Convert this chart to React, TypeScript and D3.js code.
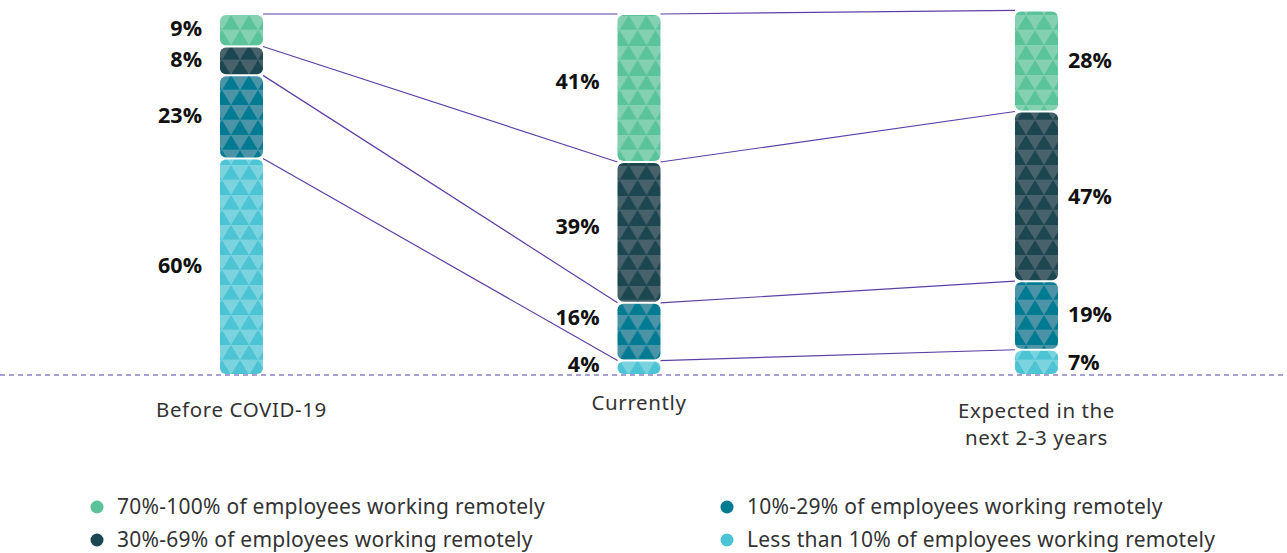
import React from "react";
import * as d3 from "d3";

const categories = ["Before COVID-19", "Currently", "Expected in the|next 2-3 years"];
const seriesNames = [
  "Less than 10% of employees working remotely",
  "10%-29% of employees working remotely",
  "30%-69% of employees working remotely",
  "70%-100% of employees working remotely",
];
// values bottom-to-top per category
const lessThan10 = [60, 4, 7];
const from10to29 = [23, 16, 19];
const from30to69 = [8, 39, 47];
const from70to100 = [9, 41, 28];

const baseColors = ["#4cc4d4", "#007b92", "#1c4650", "#5bc39a"];
const lightColors = ["#7ad3df", "#4b94a8", "#47626b", "#84d1b2"];

// label vertical nudges (px) per category, per series (layout only)
const labelNudge = [
  [-1, -2, -2, -2],
  [-4, -14, -6, -7],
  [0, -1, 0, -1],
];

const W = 1287;
const H = 553;
const BAR_W = 43;

export default function App() {
  const series = [lessThan10, from10to29, from30to69, from70to100];
  const x = d3.scalePoint<string>().domain(categories).range([241.5, 1036.5]);
  const y = d3.scaleLinear().domain([0, 100]).range([375, 14]);

  const stacks = categories.map((c, ci) => {
    let cum = 0;
    return series.map((s, si) => {
      const v = s[ci];
      const seg = { si, v, y0: cum, y1: cum + v };
      cum += v;
      return seg;
    });
  });

  const pw = 18;
  const ph = 15;

  const labelFont = "'Open Sans', 'Noto Sans', sans-serif";
  const textFont = "'Noto Sans', sans-serif";

  return (
    <svg width={W} height={H} style={{ position: "absolute", left: 0, top: 0, display: "block" }}>
      <defs>
        {categories.map((c, ci) =>
          series.map((s, si) => (
            <pattern
              key={`p${ci}-${si}`}
              id={`pat${ci}-${si}`}
              patternUnits="userSpaceOnUse"
              width={pw}
              height={ph * 2}
              x={(x(c) as number) - BAR_W / 2 + 2}
              y={y(0)}
            >
              <rect width={pw} height={ph * 2} fill={lightColors[si]} />
              <polygon points={`0,${ph} ${pw / 2},0 ${pw},${ph}`} fill={baseColors[si]} />
              <polygon points={`${-pw / 2},${2 * ph} 0,${ph} ${pw / 2},${2 * ph}`} fill={baseColors[si]} />
              <polygon points={`${pw / 2},${2 * ph} ${pw},${ph} ${1.5 * pw},${2 * ph}`} fill={baseColors[si]} />
              <line x1={0} x2={pw} y1={0.3} y2={0.3} stroke={lightColors[si]} strokeWidth={0.7} />
              <line x1={0} x2={pw} y1={ph} y2={ph} stroke={lightColors[si]} strokeWidth={0.7} />
            </pattern>
          ))
        )}
      </defs>

      <line x1={0} x2={W} y1={y(0)} y2={y(0)} stroke="#8f80c4" strokeWidth={1.3} strokeDasharray="5,4" />

      {/* connector lines */}
      {categories.slice(0, -1).map((c, ci) =>
        series.map((s, si) => {
          const a = stacks[ci][si];
          const b = stacks[ci + 1][si];
          return (
            <line
              key={`l${ci}-${si}`}
              x1={(x(c) as number) + BAR_W / 2}
              y1={y(a.y1)}
              x2={(x(categories[ci + 1]) as number) - BAR_W / 2}
              y2={y(b.y1)}
              stroke="#5d3fa6"
              strokeWidth={1.2}
            />
          );
        })
      )}

      {/* bars */}
      {categories.map((c, ci) =>
        stacks[ci].map((seg) => {
          const top = y(seg.y1) + 1;
          const bot = y(seg.y0) - 1;
          return (
            <rect
              key={`r${ci}-${seg.si}`}
              x={(x(c) as number) - BAR_W / 2}
              y={top}
              width={BAR_W}
              height={Math.max(0, bot - top)}
              rx={6}
              ry={6}
              fill={`url(#pat${ci}-${seg.si})`}
            />
          );
        })
      )}

      {/* value labels */}
      {categories.map((c, ci) =>
        stacks[ci].map((seg) => {
          const cx = x(c) as number;
          const right = ci === 2;
          return (
            <text
              key={`t${ci}-${seg.si}`}
              x={right ? cx + BAR_W / 2 + 10 : cx - BAR_W / 2 - 18}
              y={y((seg.y0 + seg.y1) / 2) + labelNudge[ci][seg.si]}
              dy="0.36em"
              textAnchor={right ? "start" : "end"}
              fontFamily={labelFont}
              fontWeight="bold"
              fontSize={21.5}
              fill="#111"
            >
              {seg.v}%
            </text>
          );
        })
      )}

      {/* category labels */}
      {categories.map((c, ci) => {
        const lines = c.split("|");
        const baseY = ci === 0 ? 417 : ci === 1 ? 410 : 418;
        return (
          <text
            key={`c${ci}`}
            x={x(c) as number}
            y={baseY}
            textAnchor="middle"
            fontFamily={textFont}
            fontSize={20.5}
            letterSpacing={0.6}
            fill="#333"
          >
            {lines.map((l, li) => (
              <tspan key={li} x={x(c) as number} dy={li === 0 ? 0 : 27}>
                {l}
              </tspan>
            ))}
          </text>
        );
      })}

      {/* legend */}
      {[3, 2, 1, 0].map((si, i) => {
        const col = i < 2 ? 0 : 1;
        const row = i % 2;
        const lx = col === 0 ? 97 : 727;
        const ly = 507 + row * 33;
        return (
          <g key={`lg${si}`}>
            <circle cx={lx} cy={ly} r={6.5} fill={baseColors[si]} />
            <text
              x={lx + 20}
              y={ly}
              dy="0.35em"
              fontFamily={textFont}
              fontSize={21}
              letterSpacing={0.25}
              fill="#333"
            >
              {seriesNames[si]}
            </text>
          </g>
        );
      })}
    </svg>
  );
}
